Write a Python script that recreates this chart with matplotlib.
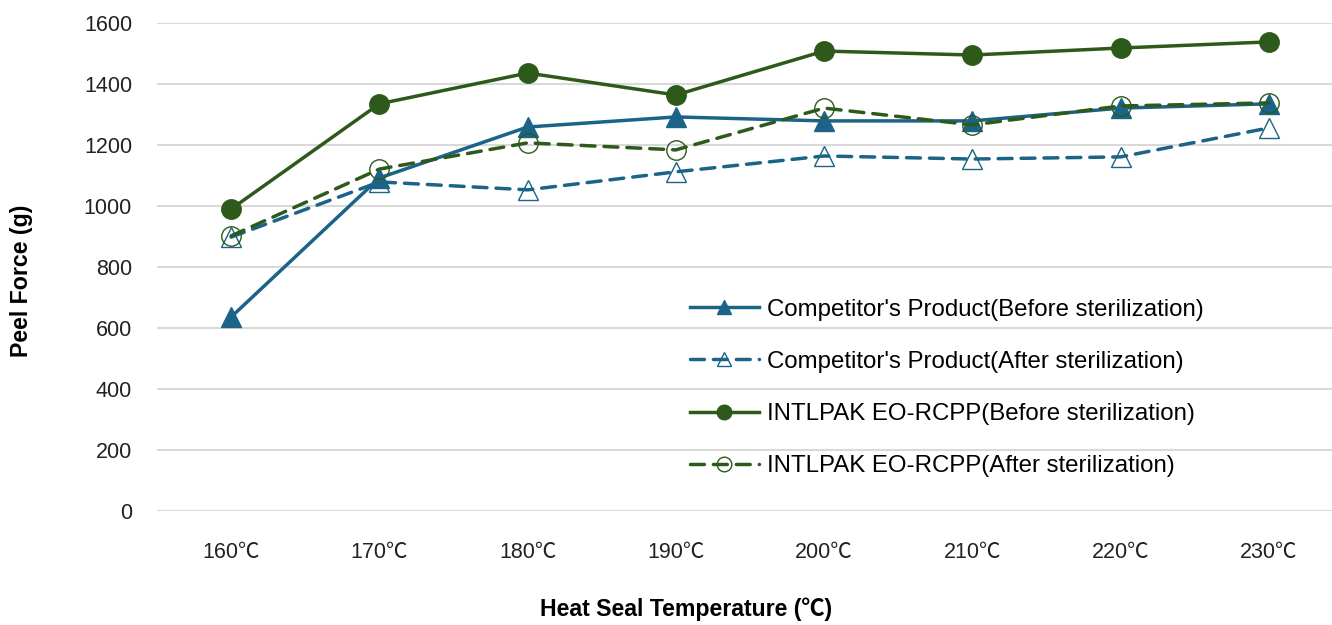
import matplotlib
matplotlib.use("Agg")
import matplotlib.pyplot as plt

categories = ["160℃", "170℃", "180℃", "190℃", "200℃", "210℃", "220℃", "230℃"]
comp_before = [636, 1092, 1259, 1292, 1279, 1279, 1321, 1335]
comp_after = [898, 1079, 1053, 1112, 1164, 1154, 1161, 1256]
intl_before = [990, 1335, 1436, 1364, 1508, 1495, 1518, 1538]
intl_after = [902, 1121, 1207, 1184, 1321, 1266, 1328, 1338]
yticks = [0, 200, 400, 600, 800, 1000, 1200, 1400, 1600]

plt.rcParams['font.family'] = ['Liberation Sans', 'Noto Sans CJK SC', 'DejaVu Sans']

BLUE = "#1b6387"
GREEN = "#2d5a1b"
DASH = (0, (4.0, 2.6))

fig = plt.figure(figsize=(13.32, 6.25), dpi=100)
ax = fig.add_axes([157/1332, 1-511/625, (1343-157)/1332, (511-23)/625])

x = list(range(len(categories)))
ax.plot(x, comp_before, color=BLUE, lw=2.5, marker='^', ms=14, mfc=BLUE, mec=BLUE,
        label="Competitor's Product(Before sterilization)", zorder=3)
ax.plot(x, comp_after, color=BLUE, lw=2.5, ls=DASH, dash_capstyle='round', marker='^', ms=14,
        mfc='none', mec=BLUE, mew=1.0, label="Competitor's Product(After sterilization)", zorder=3)
ax.plot(x, intl_before, color=GREEN, lw=2.5, marker='o', ms=14, mfc=GREEN, mec=GREEN,
        label="INTLPAK EO-RCPP(Before sterilization)", zorder=3)
ax.plot(x, intl_after, color=GREEN, lw=2.5, ls=DASH, dash_capstyle='round', marker='o', ms=14,
        mfc='none', mec=GREEN, mew=1.0, label="INTLPAK EO-RCPP(After sterilization)", zorder=3)

ax.set_xlim(-0.5, len(categories) - 0.5)
ax.set_ylim(0, 1600)
ax.set_yticks(yticks)
ax.set_xticks(x)
ax.set_xticklabels(categories)
ax.grid(axis='y', color='#d9d9d9', lw=1.5, zorder=0)
ax.set_axisbelow(True)
for s in ax.spines.values():
    s.set_visible(False)
ax.tick_params(axis='both', length=0, labelsize=15.5, colors='#222222')
ax.tick_params(axis='x', pad=22)
ax.tick_params(axis='y', pad=18)

fig.text(686/1332, 1-609/625, "Heat Seal Temperature (℃)", ha='center', va='center',
         fontsize=16.7, fontweight='bold')
fig.text(22/1332, 1-281/625, "Peel Force (g)", ha='center', va='center', rotation=90,
         fontsize=16.7, fontweight='bold')

leg = ax.legend(loc='upper left', bbox_to_anchor=((668-157)/1186, (511-277)/488),
                frameon=False, fontsize=17.3, markerscale=0.75, handlelength=2.9,
                handletextpad=0.3, labelspacing=1.26)

fig.savefig("out.png", dpi=100)
